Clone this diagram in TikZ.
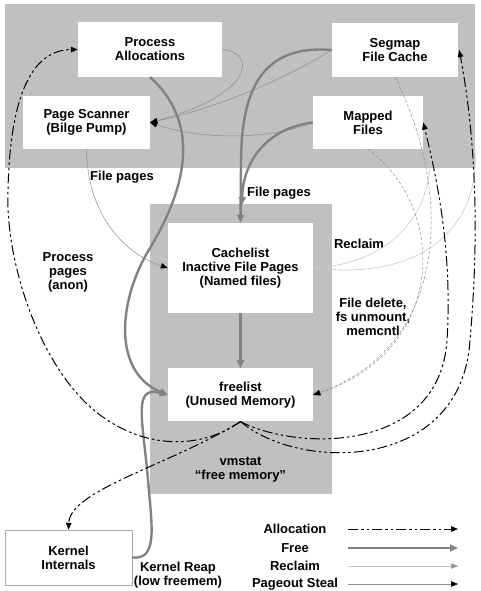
\documentclass[tikz,border=0pt]{standalone}
\usepackage{fontspec}
\setmainfont{Liberation Sans}
\usepackage{tikz}
\usetikzlibrary{positioning, arrows.meta}
\definecolor{bandgray}{RGB}{192,192,192}
\definecolor{freegray}{RGB}{130,130,130}
\definecolor{reclaimgray}{RGB}{200,200,200}
\definecolor{reclaimtip}{RGB}{150,150,150}
\definecolor{stealgray}{RGB}{140,140,140}
\definecolor{boxline}{RGB}{170,170,170}
\tikzset{
	node distance=1cm and 1.5cm,
	every text node part/.style= {
		align=center
	},
	every node/.style= {
		font=\fontsize{13}{14}\selectfont\bfseries
	},
	pagebox/.style= {
		rectangle,
		fill=white,
		inner sep=0pt
	},
	allocation/.style= {
		black,
		line width=1pt,
		dash pattern=on 10pt off 3pt on 2.5pt off 3pt on 2.5pt off 3pt,
		-{Triangle[length=7pt,width=5.5pt]}
	},
	free/.style= {
		freegray,
		line width=2.4pt,
		-{Triangle[length=8pt,width=7pt]}
	},
	reclaim/.style= {
		reclaimgray,
		line width=0.6pt,
		-{Triangle[length=7pt,width=5.5pt,color=reclaimtip]}
	},
	steal/.style= {
		stealgray,
		line width=0.5pt,
		-{Triangle[length=7pt,width=5.5pt,color=black]}
	},
	unmount/.style= {
		steal,
		dash pattern=on 3pt off 2pt
	}
}

\begin{document}
\begin{tikzpicture}[x=1pt, y=-1pt]
	\useasboundingbox (0,0) rectangle (480,591);
	
	% shaded regions
	\fill[bandgray] (5,4) rectangle (475,168);
	\fill[bandgray] (150,204) rectangle (332,494);
	
	\node (alloc)[pagebox, minimum width=144pt, minimum height=55pt] at (150,49.5) {Process\\Allocations};
	\node (scanner)[pagebox, minimum width=127pt, minimum height=53pt] at (86.5,122.5) {Page Scanner\\(Bilge Pump)};
	\node (segmap)[pagebox, minimum width=126pt, minimum height=54pt] at (395,50) {Segmap\\File Cache};
	\node (mapped)[pagebox, minimum width=110pt, minimum height=53pt] at (368,122.5) {Mapped\\Files};
	
	\node (cachelist)[pagebox, minimum width=145pt, minimum height=90pt] at (240.5,268) {Cachelist\\Inactive File Pages\\(Named files)};
	\node (freelist)[pagebox, minimum width=145pt, minimum height=53pt, below=55pt of cachelist] {freelist\\(Unused Memory)};
	\node (vmstat)[below=32pt of freelist] {vmstat\\“free memory”};
	
	\node (kernel)[pagebox, draw=boxline, minimum width=127pt, minimum height=55pt] at (68.5,557.5) {Kernel\\Internals};
	
	% labels
	\node (filepagesL) at (122,177) {File pages};
	\node (filepagesR) at (279,193) {File pages};
	\node (anonpages) at (68,272) {Process\\pages\\(anon)};
	\node (reclaimtxt) at (359,244) {Reclaim};
	\node (deletetxt) at (373,317) {File delete,\\fs unmount,\\memcntl};
	\node (reaptxt) at (178,575) {Kernel Reap\\(low freemem)};
	
	% pageout steal
	\draw[steal] (alloc.east) .. controls (256,52) and (256,94) .. (scanner.east);
	\draw[steal] (segmap.west) .. controls (270,88) and (200,112) .. (scanner.east);
	\draw[steal] (mapped.west) .. controls (270,140) and (200,140) .. (scanner.east);
	\draw[steal] (scanner.south) .. controls (87,210) and (120,252) .. (cachelist.west);
	
	% reclaim
	\draw[reclaim] (cachelist.east) .. controls (420,262) and (442,175) .. (mapped.east);
	\draw[reclaim] (cachelist.east) .. controls (430,282) and (480,220) .. (475,150) .. controls (472,100) .. ([xshift=1pt]segmap.east);
	
	% file delete, fs unmount, memcntl
	\draw[unmount] (segmap.south) .. controls (452,190) and (452,345) .. (freelist.east);
	\draw[unmount] (mapped.south) .. controls (450,210) and (445,352) .. (freelist.east);
	
	% free
	\draw[free] (segmap.west) .. controls (258,44) and (241,95) .. (241,165) -- (cachelist.north);
	\draw[free] (mapped.west) .. controls (268,128) and (243,160) .. (242,205);
	\draw[free] (cachelist.south) -- (freelist.north);
	\draw[free] (alloc.south) .. controls (200,122) and (188,185) .. (150,248) .. controls (118,300) and (112,372) .. (freelist.west);
	\draw[free] (kernel.east) .. controls (158,560) and (152,528) .. (148,480) .. controls (143,420) and (132,385) .. (freelist.west);
	
	% allocation
	\draw[allocation] (freelist.south) .. controls (205,447) and (150,452) .. (100,415) .. controls (40,370) and (5,262) .. (8,190) .. controls (10,100) and (30,50) .. (alloc.west);
	\draw[allocation] (freelist.south) .. controls (170,465) and (70,490) .. (kernel.north);
	\draw[allocation] (freelist.south) .. controls (300,452) and (440,452) .. (447,340) .. controls (452,260) and (440,190) .. (mapped.east);
	\draw[allocation] (freelist.south) .. controls (300,472) and (462,472) .. (470,340) .. controls (478,250) and (478,150) .. ([xshift=1pt]segmap.east);
	
	% legend
	\node (legAlloc) at (295,529) {Allocation};
	\node (legFree) at (295,548) {Free};
	\node (legReclaim) at (295,566) {Reclaim};
	\node (legSteal) at (295,584) {Pageout Steal};
	\coordinate (allocA) at (348,529);
	\coordinate (allocB) at (458,529);
	\coordinate (freeA) at (348,548);
	\coordinate (freeB) at (458,548);
	\coordinate (reclaimA) at (348,566);
	\coordinate (reclaimB) at (458,566);
	\coordinate (stealA) at (348,584);
	\coordinate (stealB) at (458,584);
	\draw[allocation] (allocA) -- (allocB);
	\draw[free] (freeA) -- (freeB);
	\draw[reclaim] (reclaimA) -- (reclaimB);
	\draw[steal] (stealA) -- (stealB);
	
\end{tikzpicture}
\end{document}
